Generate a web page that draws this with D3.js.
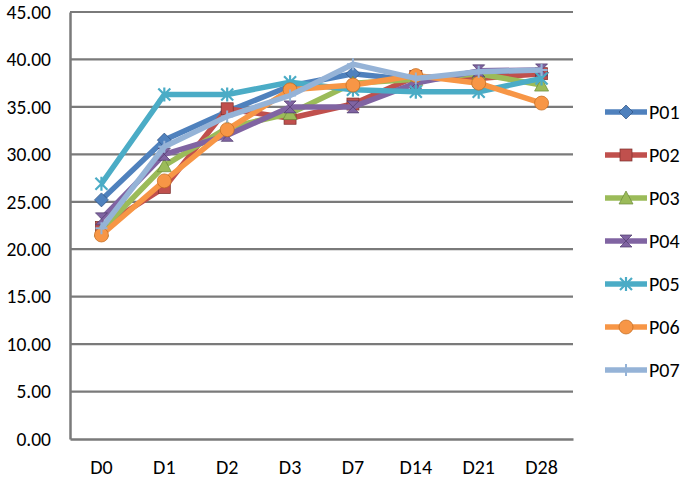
<!DOCTYPE html>
<html><head><meta charset="utf-8">
<script src="https://cdn.jsdelivr.net/npm/d3@7"></script>
<style>html,body{margin:0;padding:0;background:#fff;}svg{display:block;}</style>
</head><body>
<svg id="c" width="685" height="480"></svg>
<script>
const categories = ["D0","D1","D2","D3","D7","D14","D21","D28"];
const seriesNames = ["P01","P02","P03","P04","P05","P06","P07"];
const P01 = [25.2, 31.5, 34.5, 37.2, 38.5, 37.8, 38.3, 38.6];
const P02 = [22.3, 26.5, 34.8, 33.8, 35.3, 38.2, 38.0, 38.5];
const P03 = [22.0, 28.8, 32.8, 34.3, 37.5, 37.9, 38.5, 37.3];
const P04 = [23.2, 30.0, 32.0, 35.0, 35.0, 37.5, 38.8, 38.9];
const P05 = [26.9, 36.3, 36.3, 37.6, 36.8, 36.6, 36.6, 38.0];
const P06 = [21.5, 27.2, 32.6, 36.8, 37.3, 38.3, 37.5, 35.4];
const P07 = [22.2, 30.8, 34.0, 36.2, 39.5, 38.0, 38.7, 38.9];
const yTicks = [0,5,10,15,20,25,30,35,40,45];
const colors = ["#4F81BD","#C0504D","#9BBB59","#8064A2","#4BACC6","#F79646","#95B3D7"];
const markers = ["diamond","square","triangle","hourglass","star","circle","plus"];
const values = [P01,P02,P03,P04,P05,P06,P07];

(function(){
const svg = d3.select("#c");
const mL = 70, mR = 573, mT = 12, mB = 439;
const x = d3.scaleBand().domain(categories).range([mL, mR]);
const y = d3.scaleLinear().domain([0,45]).range([mB, mT]);
const font = "Carlito, Calibri, 'Liberation Sans', Arial, sans-serif";

svg.append("g").selectAll("line").data(yTicks.filter(d=>d>0)).join("line")
  .attr("x1", mL).attr("x2", mR).attr("y1", d=>y(d)).attr("y2", d=>y(d))
  .attr("stroke", "#7a7a7a").attr("stroke-width", 2.2);
const yAxis = svg.append("g").attr("transform", `translate(${mL},0)`)
  .call(d3.axisLeft(y).tickValues(yTicks).tickFormat(d3.format(".2f")).tickSize(0).tickPadding(19));
yAxis.select(".domain").attr("stroke","#7a7a7a").attr("stroke-width",2.5);
yAxis.selectAll("text").attr("font-family", font).attr("font-size", 19.5).attr("fill","#000");
const xAxis = svg.append("g").attr("transform", `translate(0,${mB})`)
  .call(d3.axisBottom(x).tickSize(0).tickPadding(21));
xAxis.select(".domain").attr("stroke","#7a7a7a").attr("stroke-width",2.5);
xAxis.selectAll("text").attr("font-family", font).attr("font-size", 20).attr("fill","#000");

const cx = c => x(c) + x.bandwidth()/2;
const line = d3.line().x((d,i)=>cx(categories[i])).y(d=>y(d));

function drawMarker(g, type, col, px, py, s) {
  const r = s/2;
  if (type==="diamond") g.append("path").attr("d",`M${px},${py-r-1}L${px+r+1},${py}L${px},${py+r+1}L${px-r-1},${py}Z`).attr("fill",col).attr("stroke","#2f5080").attr("stroke-width",0.7);
  else if (type==="square") g.append("rect").attr("x",px-r).attr("y",py-r).attr("width",s).attr("height",s).attr("fill",col).attr("stroke","#7a2e2c").attr("stroke-width",0.7);
  else if (type==="triangle") g.append("path").attr("d",`M${px},${py-r-1}L${px+r+1},${py+r}L${px-r-1},${py+r}Z`).attr("fill",col).attr("stroke","#6a8a3a").attr("stroke-width",0.7);
  else if (type==="hourglass") g.append("path").attr("d",`M${px-r},${py-r}L${px+r},${py-r}L${px-r},${py+r}L${px+r},${py+r}Z`).attr("fill",col).attr("stroke","#4e3a6a").attr("stroke-width",0.7);
  else if (type==="star") g.append("path").attr("d",`M${px-r},${py-r}L${px+r},${py+r}M${px+r},${py-r}L${px-r},${py+r}M${px},${py-r-1}L${px},${py+r+1}`).attr("stroke",col).attr("stroke-width",2.2).attr("fill","none");
  else if (type==="circle") g.append("circle").attr("cx",px).attr("cy",py).attr("r",r+1).attr("fill",col).attr("stroke","#c06a20").attr("stroke-width",0.7);
  else if (type==="plus") g.append("path").attr("d",`M${px-r},${py}L${px+r},${py}M${px},${py-r}L${px},${py+r}`).attr("stroke",col).attr("stroke-width",2).attr("fill","none");
}

values.forEach((vals, si) => {
  const g = svg.append("g");
  g.append("path").datum(vals).attr("d", line).attr("fill","none")
    .attr("stroke", colors[si]).attr("stroke-width", 5.5).attr("stroke-linejoin","round");
  vals.forEach((v,i)=> drawMarker(g, markers[si], colors[si], cx(categories[i]), y(v), 12));
});

const lg = svg.append("g");
seriesNames.forEach((n, i) => {
  const ly = 112 + i*43;
  lg.append("line").attr("x1",605).attr("x2",647).attr("y1",ly).attr("y2",ly)
    .attr("stroke",colors[i]).attr("stroke-width",5.5);
  drawMarker(lg, markers[i], colors[i], 626, ly, 12);
  lg.append("text").attr("x",649).attr("y",ly).attr("dy","0.35em")
    .attr("font-family",font).attr("font-size",20).attr("fill","#000").text(n);
});
})();
</script>
</body></html>
